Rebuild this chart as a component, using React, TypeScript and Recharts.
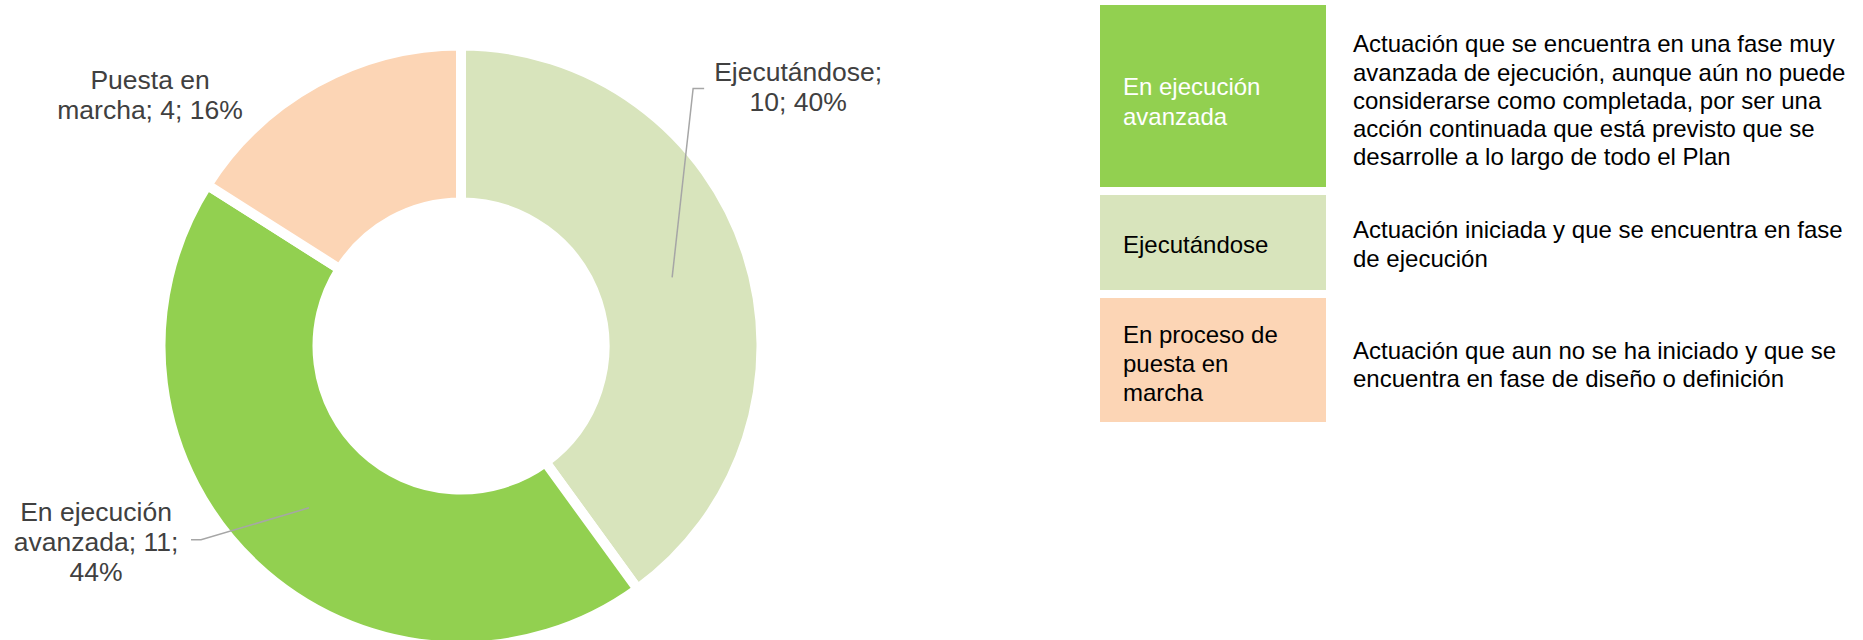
import React from 'react';
import { PieChart, Pie, Cell, Legend } from 'recharts';

// ---- data ----
const categories = ['Ejecutándose', 'En ejecución avanzada', 'Puesta en marcha'];
const values = [10, 11, 4];
const sliceColors = ['#D8E4BC', '#92D050', '#FCD5B5'];

const legendTitles = [['En ejecución', 'avanzada'], ['Ejecutándose'], ['En proceso de', 'puesta en', 'marcha']];
const legendColors = ['#92D050', '#D8E4BC', '#FCD5B5'];
const legendTextColors = ['#FFFFFF', '#000000', '#000000'];
const legendDescriptions = [
  [
    'Actuación que se encuentra en una fase muy',
    'avanzada de ejecución, aunque aún no puede',
    'considerarse como completada, por ser una',
    'acción continuada que está previsto que se',
    'desarrolle a lo largo de todo el Plan',
  ],
  ['Actuación iniciada y que se encuentra en fase', 'de ejecución'],
  ['Actuación que aun no se ha iniciado y que se', 'encuentra en fase de diseño o definición'],
];

// ---- layout ----
const FONT = '"Liberation Sans", Arial, sans-serif';
const RADIAN = Math.PI / 180;
const LABEL_LAYOUT = [
  { elbow: [21, -189], stub: [32, -189], text: [126, -196] },
  { elbow: [-108, 32], stub: [-118, 32], text: [-213, 13] },
  { elbow: null, stub: null, text: [-204, -62] },
];
const LABEL_WRAP = 14;
const LEGEND_ROW_HEIGHTS = [182, 95, 124];
const LEGEND_TITLE_LINE = [30, 29, 29];
const LEGEND_TITLE_PAD = [12, 4, 6];
const LEGEND_DESC_PAD = [10, 4, 10];

const chartData = categories.map((c, i) => ({ name: c, value: values[i] }));

function wrapWords(s: string, max: number): string[] {
  const words = s.split(' ');
  const lines: string[] = [];
  let cur = '';
  for (const w of words) {
    if (!cur) cur = w;
    else if ((cur + ' ' + w).length <= max) cur = cur + ' ' + w;
    else {
      lines.push(cur);
      cur = w;
    }
  }
  if (cur) lines.push(cur);
  return lines;
}

const renderLabel = (props: any) => {
  const { cx, cy, midAngle, innerRadius, outerRadius, index, percent } = props;
  const r = (innerRadius + outerRadius) / 2;
  const ax = cx + r * Math.cos(-midAngle * RADIAN);
  const ay = cy + r * Math.sin(-midAngle * RADIAN);
  const lay = LABEL_LAYOUT[index];
  const text = `${categories[index]}; ${values[index]}; ${Math.round(percent * 100)}%`;
  const lines = wrapWords(text, LABEL_WRAP);
  const tx = ax + lay.text[0];
  const ty = ay + lay.text[1];
  return (
    <g key={`lbl-${index}`}>
      {lay.elbow && lay.stub && (
        <polyline
          points={`${ax},${ay} ${ax + lay.elbow[0]},${ay + lay.elbow[1]} ${ax + lay.stub[0]},${ay + lay.stub[1]}`}
          fill="none"
          stroke="#A6A6A6"
          strokeWidth={1.5}
        />
      )}
      <text x={tx} y={ty} textAnchor="middle" fill="#404040" fontSize={26.5} fontFamily={FONT}>
        {lines.map((l, i) => (
          <tspan key={i} x={tx} y={ty + i * 30}>
            {l}
          </tspan>
        ))}
      </text>
    </g>
  );
};

const LegendTable = () => (
  <div style={{ fontFamily: FONT, fontSize: 24 }}>
    {legendTitles.map((t, i) => (
      <div key={i} style={{ display: 'flex', alignItems: 'center', marginBottom: 8 }}>
        <div
          style={{
            width: 226,
            height: LEGEND_ROW_HEIGHTS[i],
            background: legendColors[i],
            color: legendTextColors[i],
            display: 'flex',
            flexDirection: 'column',
            justifyContent: 'center',
            paddingLeft: 23,
            paddingTop: LEGEND_TITLE_PAD[i],
            boxSizing: 'border-box',
            lineHeight: `${LEGEND_TITLE_LINE[i]}px`,
          }}
        >
          {t.map((l, j) => (
            <div key={j} style={{ whiteSpace: 'nowrap' }}>{l}</div>
          ))}
        </div>
        <div style={{ marginLeft: 27, color: '#000', lineHeight: '28.2px', paddingTop: LEGEND_DESC_PAD[i] }}>
          {legendDescriptions[i].map((l, j) => (
            <div key={j} style={{ whiteSpace: 'nowrap' }}>{l}</div>
          ))}
        </div>
      </div>
    ))}
  </div>
);

export default function App() {
  return (
    <div style={{ position: 'absolute', left: 0, top: 0, width: 1863, height: 640, background: '#fff' }}>
      <PieChart width={1863} height={640} margin={{ top: 0, right: 0, bottom: 0, left: 0 }}>
        <Pie
          data={chartData}
          dataKey="value"
          nameKey="name"
          cx={461}
          cy={346}
          innerRadius={143.5}
          outerRadius={300.5}
          startAngle={90}
          endAngle={-270}
          stroke="#FFFFFF"
          strokeWidth={10}
          label={renderLabel}
          labelLine={false}
          isAnimationActive={false}
        >
          {chartData.map((d, i) => (
            <Cell key={d.name} fill={sliceColors[i]} />
          ))}
        </Pie>
        <Legend
          content={() => <LegendTable />}
          wrapperStyle={{ position: 'absolute', left: 1100, top: 5, width: 763, height: 430 }}
        />
      </PieChart>
    </div>
  );
}
